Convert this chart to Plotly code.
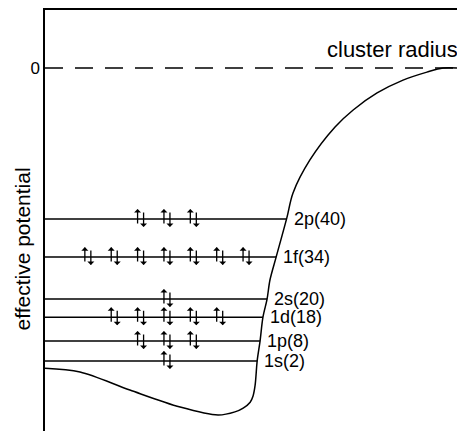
import numpy as np
import plotly.graph_objects as go

# ---- data (arbitrary units: radius 0..1, potential with well depth -1) ----
curve_r = [0.000, 0.085, 0.206, 0.328, 0.420, 0.461, 0.481, 0.498, 0.505, 0.510,
           0.515, 0.522, 0.529, 0.539, 0.546, 0.561, 0.587, 0.602, 0.643, 0.704,
           0.748, 0.806, 0.869, 0.927, 0.966, 1.000]
curve_v = [-0.865, -0.876, -0.928, -0.977, -1.000, -0.991, -0.980, -0.963, -0.945, -0.914,
           -0.844, -0.787, -0.718, -0.666, -0.611, -0.545, -0.432, -0.360, -0.265, -0.170,
           -0.121, -0.072, -0.035, -0.012, 0.000, 0.000]

level_names = ["1s", "1p", "1d", "2s", "1f", "2p"]
magic_numbers = [2, 8, 18, 20, 34, 40]
level_energies = [-0.844, -0.787, -0.718, -0.666, -0.545, -0.435]
electron_pairs = [1, 3, 5, 1, 7, 3]

zero_tick = [0]
zero_tick_text = ["0"]

FONT = "Liberation Sans, Arial, Helvetica, sans-serif"

X_RANGE = [0, 1]
Y_RANGE = [-1.046, 0.167]
PLOT_W, PLOT_H = 412, 421
DX = (X_RANGE[1] - X_RANGE[0]) / PLOT_W   # data units per pixel
DY = (Y_RANGE[1] - Y_RANGE[0]) / PLOT_H

fig = go.Figure()

# effective potential curve
fig.add_trace(go.Scatter(x=curve_r, y=curve_v, mode="lines",
                         line=dict(color="black", width=1.5, shape="spline", smoothing=0.9),
                         hoverinfo="skip", showlegend=False))

# rising branch for intersection with levels
imin = int(np.argmin(curve_v))
rise_v = np.array(curve_v[imin:-1])
rise_r = np.array(curve_r[imin:-1])

arrow_center = 0.296
arrow_step = 0.064

for name, n, e, p in zip(level_names, magic_numbers, level_energies, electron_pairs):
    x_end = float(np.interp(e, rise_v, rise_r))
    fig.add_trace(go.Scatter(x=[0, x_end], y=[e, e], mode="lines",
                             line=dict(color="black", width=1.5),
                             hoverinfo="skip", showlegend=False))
    fig.add_annotation(x=x_end, y=e, text=f"{name}({n})", showarrow=False,
                       xanchor="left", yanchor="middle", xshift=5,
                       font=dict(family=FONT, size=18, color="black"))
    for i in range(p):
        xc = arrow_center + (i - (p - 1) / 2) * arrow_step
        # spin up
        fig.add_annotation(x=xc - 3 * DX, y=e + 10 * DY, ax=xc - 3 * DX, ay=e - 6 * DY,
                           xref="x", yref="y", axref="x", ayref="y", text="",
                           showarrow=True, arrowhead=1, arrowsize=0.9, arrowwidth=1.3,
                           arrowcolor="black", standoff=0, startstandoff=0)
        # spin down
        fig.add_annotation(x=xc + 3 * DX, y=e - 8 * DY, ax=xc + 3 * DX, ay=e + 8 * DY,
                           xref="x", yref="y", axref="x", ayref="y", text="",
                           showarrow=True, arrowhead=1, arrowsize=0.9, arrowwidth=1.3,
                           arrowcolor="black", standoff=0, startstandoff=0)

# zero line
fig.add_shape(type="line", xref="x", yref="y", x0=0, x1=1, y0=0, y1=0,
              line=dict(color="black", width=1.5, dash="18px,12px"))

fig.add_annotation(x=0.68, y=0.052, text="cluster radius", showarrow=False,
                   xanchor="left", yanchor="middle",
                   font=dict(family=FONT, size=22, color="black"))

fig.add_annotation(xref="paper", yref="paper", x=-0.055, y=0.432,
                   text="effective potential", textangle=-90, showarrow=False,
                   xanchor="center", yanchor="middle",
                   font=dict(family=FONT, size=21, color="black"))

fig.update_layout(
    width=457, height=431,
    margin=dict(l=45, r=0, t=10, b=0),
    paper_bgcolor="white", plot_bgcolor="white",
    xaxis=dict(range=X_RANGE, side="top", showline=True, linecolor="black", linewidth=1.5,
               showgrid=False, zeroline=False, showticklabels=False, ticks=""),
    yaxis=dict(range=Y_RANGE, showline=True, linecolor="black", linewidth=1.5,
               showgrid=False, zeroline=False, ticks="",
               tickvals=zero_tick, ticktext=zero_tick_text,
               tickfont=dict(family=FONT, size=17, color="black")),
)

fig.write_html("out.html")
